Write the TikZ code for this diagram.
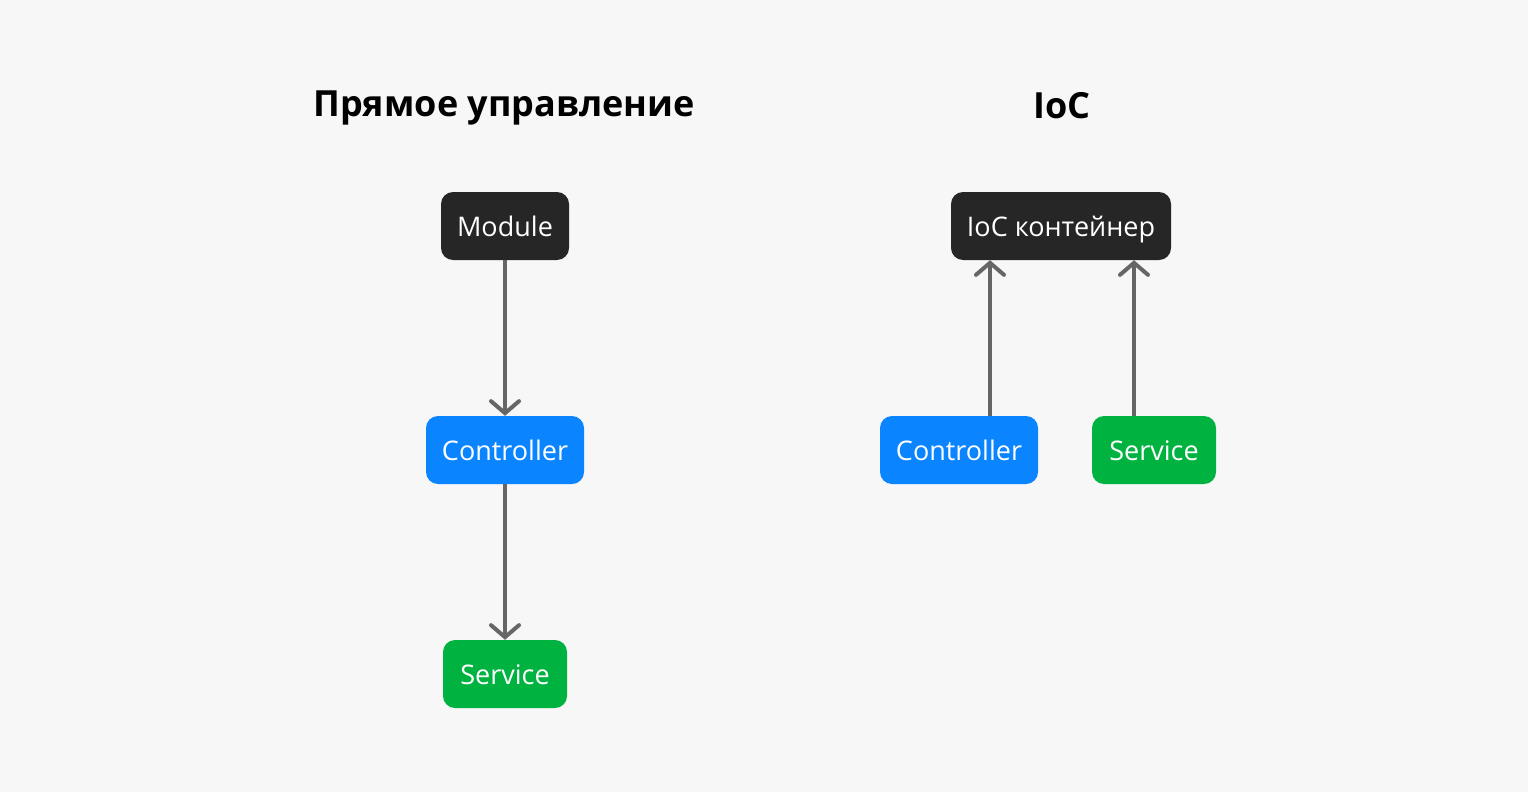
\documentclass[tikz,border=0pt]{standalone}
\usepackage{fontspec}
\setmainfont{Open Sans}
\usetikzlibrary{arrows.meta}
\definecolor{bgc}{HTML}{F7F7F7}
\definecolor{darkbox}{HTML}{262626}
\definecolor{bluebox}{HTML}{0A84FF}
\definecolor{greenbox}{HTML}{00B341}
\definecolor{arrowc}{HTML}{666666}
\tikzset{
  box/.style={rounded corners=12pt, inner sep=0pt, text=white, font=\fontsize{27}{30}\selectfont, minimum height=68pt, text height=20pt, text depth=0pt},
  darkb/.style={box, fill=darkbox},
  blueb/.style={box, fill=bluebox},
  greenb/.style={box, fill=greenbox},
  conn/.style={draw=arrowc, line width=4pt, -{Straight Barb[length=12pt,width=28pt,line cap=round]}},
  heading/.style={font=\fontsize{36}{40}\selectfont\bfseries, text=black, anchor=base}
}
\begin{document}
\begin{tikzpicture}[x=1pt,y=-1pt]
\fill[bgc] (0,0) rectangle (1528,792);
\useasboundingbox (0,0) rectangle (1528,792);
\node[heading] (t1) at (504,116) {Прямое управление};
\node[heading] (t2) at (1062,118) {IoC};
\node[darkb, minimum width=128pt] (mod) at (505,226) {Module};
\node[blueb, minimum width=158pt] (ctl) at (505,450) {Controller};
\node[greenb, minimum width=124pt] (srv) at (505,674) {Service};
\node[darkb, minimum width=220pt] (ioc) at (1061,226) {IoC контейнер};
\node[blueb, minimum width=158pt] (ctl2) at (959,450) {Controller};
\node[greenb, minimum width=124pt] (srv2) at (1154,450) {Service};
\draw[conn] (mod) -- (ctl);
\draw[conn] (ctl) -- (srv);
\draw[conn] (ctl2.north -| 990,0) -- (ioc.south -| 990,0);
\draw[conn] (srv2.north -| 1134,0) -- (ioc.south -| 1134,0);
\end{tikzpicture}
\end{document}
